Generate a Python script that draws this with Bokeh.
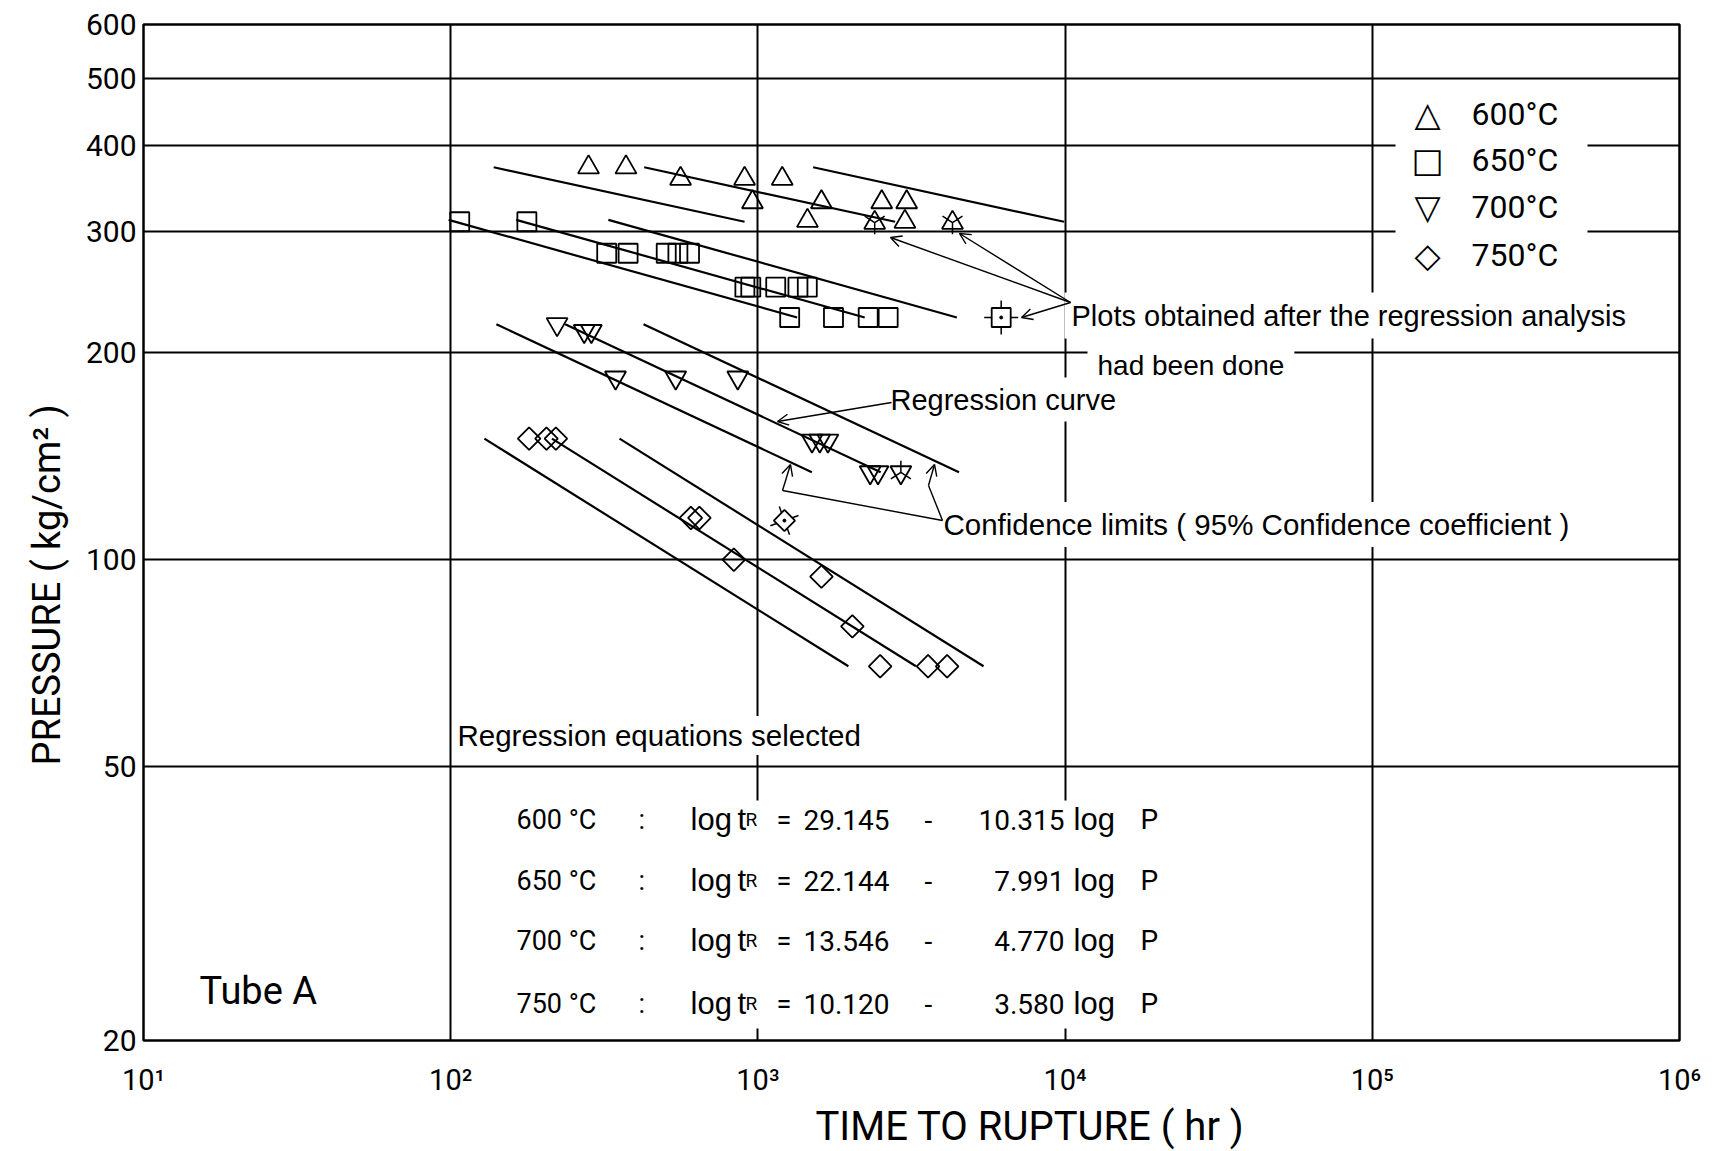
import numpy as np
from bokeh.plotting import figure
from bokeh.models import (Range1d, FixedTicker, BasicTickFormatter, Label, Arrow, OpenHead,
                          BoxAnnotation, Title)
from bokeh.embed import file_html
from bokeh.resources import INLINE

# Creep-rupture results, Tube A: time to rupture (hr) and pressure (kg/cm2)
t600 = [281, 372, 560, 905, 1200, 960, 1610, 2530, 3050, 1450, 3010]
p600 = [372, 372, 358, 358, 358, 331, 331, 331, 331, 311, 310]
t650 = [107, 177, 322, 378, 503, 549, 599, 907, 948, 1143, 1350, 1448, 1269, 1762, 2286, 2655]
p650 = [310, 310, 279, 279, 279, 279, 279, 249, 249, 249, 249, 249, 225, 225, 225, 225]
t700 = [222, 272, 287, 344, 540, 860, 1500, 1590, 1690, 2320, 2460]
p700 = [220, 215, 215, 184, 184, 184, 149, 149, 149, 134, 134]
t750 = [180, 205, 220, 605, 645, 835, 1610, 2030, 2500, 3580, 4130]
p750 = [150, 150, 150, 115, 115, 100, 94.5, 80, 70, 70, 70]

# points plotted after the regression analysis had been done
t600_post = [2400, 4300]
p600_post = [309, 309]
t650_post = [6194]
p650_post = [225]
t700_post = [2920]
p700_post = [134]
t750_post = [1220]
p750_post = [114]

# regression equations: log tR = a - b log P
temps = ["600", "650", "700", "750"]
intercepts = [29.145, 22.144, 13.546, 10.120]
slopes = [10.315, 7.991, 4.770, 3.580]
# pressure span of each drawn line and 95% confidence offsets (in log t)
p_top = [372, 312, 220, 150]
p_bottom = [310, 225, 134, 70]
conf_lo = [-0.49, -0.22, -0.224, -0.22]
conf_hi = [0.55, 0.30, 0.255, 0.22]

x_ticks = [10, 100, 1000, 10000, 100000, 1000000]
x_tick_labels = ["10¹", "10²", "10³", "10⁴", "10⁵", "10⁶"]
y_ticks = [20, 50, 100, 200, 300, 400, 500, 600]
y_grid = [50, 100, 200, 300, 400, 500]
legend_symbols = ["△", "□", "▽", "◇"]

W, H = 1721, 1151
L, R, T, B = 143, 42, 24, 111
ROUND = "Roboto"
COND = "Liberation Sans"
SYM = "DejaVu Sans"

p = figure(width=W, height=H, x_axis_type="log", y_axis_type="log",
           x_range=Range1d(10, 1e6), y_range=Range1d(20, 600),
           output_backend="svg", toolbar_location=None,
           min_border_left=L, min_border_right=R, min_border_top=T, min_border_bottom=B)
p.background_fill_color = "white"
p.border_fill_color = "white"
p.outline_line_color = "black"
p.outline_line_width = 2.5

for ax in (p.xaxis[0], p.yaxis[0]):
    ax.axis_line_color = None
    ax.major_tick_line_color = None
    ax.minor_tick_line_color = None
    ax.major_label_text_color = "black"
    ax.major_label_text_font = ROUND

p.xaxis.ticker = FixedTicker(ticks=x_ticks, minor_ticks=[])
p.xaxis.major_label_overrides = {t: s for t, s in zip(x_ticks, x_tick_labels)}
p.xaxis.major_label_text_font_size = "29px"
p.xaxis.major_label_standoff = 16

p.yaxis.ticker = FixedTicker(ticks=y_ticks, minor_ticks=[])
p.yaxis.formatter = BasicTickFormatter()
p.yaxis.major_label_text_font_size = "30px"
p.yaxis.major_label_standoff = 1

p.xgrid.ticker = FixedTicker(ticks=x_ticks[1:-1], minor_ticks=[])
p.ygrid.ticker = FixedTicker(ticks=y_grid, minor_ticks=[])
for g in (p.xgrid[0], p.ygrid[0]):
    g.grid_line_color = "black"
    g.grid_line_width = 2
    g.grid_line_alpha = 1.0

# axis titles, placed along their axes
p.add_layout(Title(text="TIME TO RUPTURE ( hr )", align="left", offset=672,
                   text_font=ROUND, text_font_size="40px", text_font_style="normal",
                   text_color="black", standoff=2), "below")
p.add_layout(Title(text="PRESSURE ( kg/cm² )", align="left", offset=275,
                   text_font=ROUND, text_font_size="38px", text_font_style="normal",
                   text_color="black", standoff=28), "left")

# regression curves with their confidence limits
for a, b, ptop, pbot, lo, hi in zip(intercepts, slopes, p_top, p_bottom, conf_lo, conf_hi):
    pp = np.array([ptop, pbot], dtype=float)
    logt = a - b * np.log10(pp)
    for off in (0.0, lo, hi):
        p.line(10 ** (logt + off), pp, line_color="black", line_width=2.2)

mk = dict(fill_alpha=0, line_color="black", line_width=1.8)
p.scatter(t600, p600, marker="triangle", size=21, **mk)
p.scatter(t650, p650, marker="square", size=19, **mk)
p.scatter(t700, p700, marker="inverted_triangle", size=21, **mk)
p.scatter(t750, p750, marker="square", angle=np.pi / 4, size=16, **mk)

# post-regression points carry small tick marks
p.scatter(t600_post, p600_post, marker="triangle", size=21, **mk)
p.scatter(t600_post, p600_post, marker="y", size=23, line_color="black", line_width=1.5)
p.scatter(t700_post, p700_post, marker="inverted_triangle", size=21, **mk)
p.scatter(t700_post, p700_post, marker="y", angle=np.pi, size=23, line_color="black", line_width=1.5)
p.scatter(t650_post, p650_post, marker="cross", size=34, line_color="black", line_width=1.5)
p.scatter(t650_post, p650_post, marker="square", size=19, fill_color="white", line_color="black", line_width=1.8)
p.scatter(t650_post, p650_post, marker="circle", size=3, fill_color="black", line_color="black")
p.scatter(t750_post, p750_post, marker="cross", angle=0.35, size=30, line_color="black", line_width=1.5)
p.scatter(t750_post, p750_post, marker="square", angle=np.pi / 4, size=15, fill_color="white", line_color="black", line_width=1.8)
p.scatter(t750_post, p750_post, marker="circle", size=3, fill_color="black", line_color="black")


def sx(px):
    return px - L


def sy(py):
    return (H - B) - py


def note(text, px, py, size, font=COND, align="left", baseline="alphabetic", bg=None, pad=0):
    p.add_layout(Label(x=sx(px), y=sy(py), x_units="screen", y_units="screen", text=text,
                       text_font=font, text_font_size=f"{size}px", text_align=align,
                       text_baseline=baseline, text_color="black",
                       background_fill_color=bg, padding=pad))


def blank(x0, y0, x1, y1):
    p.add_layout(BoxAnnotation(left=sx(x0), right=sx(x1), top=sy(y0), bottom=sy(y1),
                               left_units="screen", right_units="screen",
                               top_units="screen", bottom_units="screen",
                               fill_color="white", fill_alpha=1.0, line_color=None))


def arrow(x0, y0, x1, y1, head=True):
    p.add_layout(Arrow(x_start=sx(x0), y_start=sy(y0), x_end=sx(x1), y_end=sy(y1),
                       start_units="screen", end_units="screen",
                       end=OpenHead(size=11, line_width=1.4) if head else None,
                       line_width=1.4, line_color="black"))


# white blocks behind the equations and the key
blank(505, 800, 1165, 1028)
blank(1395, 83, 1587, 284)

# key
key_rows = [113, 159, 206, 254]
for sym, t, ky in zip(legend_symbols, temps, key_rows):
    note(sym, 1427, ky, 34, font=SYM, align="center", baseline="middle")
    note(f"{t}°C", 1471, ky, 32, font=ROUND, baseline="middle")

note("Plots obtained after the regression analysis", 1064, 315, 29, bg="white", pad=7)
note("had been done", 1087, 365, 28, bg="white", pad=10)
note("Regression curve", 884, 399, 29, bg="white", pad=6)
note("Confidence limits ( 95% Confidence coefficient )", 937, 524, 29.5, bg="white", pad=6)
note("Regression equations selected", 454, 735, 29.5, bg="white", pad=3)
note("Tube A", 199, 990, 38, font=ROUND)

rows = [819, 880, 940, 1003]
for t, a, b, py in zip(temps, intercepts, slopes, rows):
    note(f"{t} °C", 516, py, 27, font=ROUND)
    note(":", 638, py, 27, font=ROUND)
    note("log", 690, py, 31)
    note("t", 737, py, 31)
    note("R", 745, py, 19, font=ROUND)
    note("=", 776, py, 27, font=ROUND)
    note(f"{a:.3f}", 803, py, 28, font=ROUND)
    note("-", 924, py, 28, font=ROUND)
    note(f"{b:.3f}", 1064, py, 28, font=ROUND, align="right")
    note("log", 1073, py, 31)
    note("P", 1140, py, 28, font=ROUND)

# leader lines and arrows
for tx, ty in [(890, 237), (959, 233), (1021, 317)]:
    arrow(1070, 302, tx, ty)
arrow(891, 402, 777, 421)
arrow(942, 520, 782, 490, head=False)
arrow(782, 490, 790, 464)
arrow(942, 520, 928, 485, head=False)
arrow(928, 485, 934, 464)

open("out.html", "w").write(file_html(p, INLINE))
